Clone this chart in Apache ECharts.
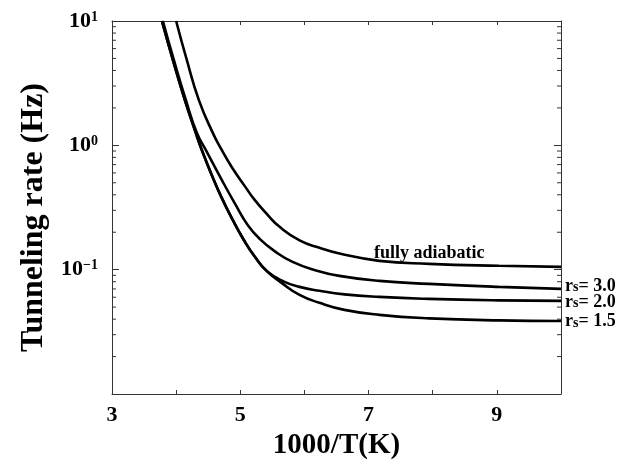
<!DOCTYPE html>
<html>
<head>
<meta charset="utf-8">
<script src="https://cdn.jsdelivr.net/npm/echarts@6/dist/echarts.min.js"></script>
<style>
    html, body { margin: 0; padding: 0; background: #fff; }
    #chart { width: 638px; height: 466px; }
</style>
</head>
<body>
<div id="chart"></div>
<script>
// curves: [1000/T, rate in Hz]
const fullyAdiabatic = [
    [4.00, 10], [4.166, 4.86], [4.353, 2.32], [4.571, 1.26], [4.711, 0.918],
    [4.866, 0.670], [5.068, 0.472], [5.224, 0.364], [5.426, 0.276], [5.613, 0.221],
    [5.924, 0.172], [6.235, 0.150], [6.546, 0.135], [7.168, 0.1177],
    [7.946, 0.1114], [9.034, 0.1074], [10.0, 0.1054]
];
const rs30 = [
    [3.793, 10], [3.964, 4.86], [4.151, 2.32], [4.322, 1.26], [4.462, 0.918],
    [4.711, 0.527], [4.928, 0.332], [5.115, 0.229], [5.302, 0.177], [5.551, 0.139],
    [5.815, 0.1155], [6.157, 0.0996], [6.546, 0.0891], [7.168, 0.0812],
    [7.946, 0.0769], [9.034, 0.0727], [10.0, 0.0701]
];
const rs20 = [
    [3.778, 10], [3.949, 4.86], [4.135, 2.32], [4.306, 1.26], [4.400, 0.918],
    [4.555, 0.578], [4.711, 0.378], [4.882, 0.251], [5.053, 0.174], [5.239, 0.1245],
    [5.426, 0.0960], [5.690, 0.0798], [5.924, 0.0727], [6.235, 0.0676],
    [6.624, 0.0633], [7.168, 0.0604], [7.946, 0.0582], [9.034, 0.0566], [10.0, 0.0561]
];
const rs15 = [
    [3.778, 10], [3.949, 4.86], [4.135, 2.32], [4.306, 1.26], [4.400, 0.918],
    [4.555, 0.578], [4.711, 0.378], [4.882, 0.251], [5.053, 0.174], [5.239, 0.1245],
    [5.426, 0.0960], [5.644, 0.0783], [5.924, 0.0627], [6.235, 0.0541],
    [6.624, 0.0475], [7.168, 0.0433], [7.946, 0.0406], [9.034, 0.0391], [10.0, 0.0387]
];
const seriesNames = ['fully adiabatic', 'r{s|s}= 3.0', 'r{s|s}= 2.0', 'r{s|s}= 1.5'];
const labelAt = 7.946;

const xRange = [3, 10];
const yRange = [0.01, 10];

// log minor ticks 2..9 in each decade
const minorTicks = [];
[0.01, 0.1, 1].forEach(d => {
    for (let k = 2; k <= 9; k++) {
        minorTicks.push([xRange[0], +(d * k).toPrecision(3)]);
    }
});

const FONT = 'Liberation Serif';
const AXIS_COLOR = '#333';

const lineStyle = { color: '#000', width: 2.6 };

const endLabel = (name, dy) => ({
    show: true,
    formatter: name,
    distance: 4,
    offset: [0, dy],
    color: '#000',
    fontFamily: FONT,
    fontWeight: 'bold',
    fontSize: 18,
    rich: {
        s: {
            fontFamily: FONT,
            fontWeight: 'bold',
            fontSize: 14,
            verticalAlign: 'bottom',
            color: '#000'
        }
    }
});

const chart = echarts.init(document.getElementById('chart'));

chart.setOption({
    animation: false,
    grid: { left: 112, right: 77, top: 21, bottom: 72 },
    xAxis: [
        {
            type: 'value',
            min: xRange[0],
            max: xRange[1],
            interval: 1,
            name: '1000/T(K)',
            nameLocation: 'middle',
            nameGap: 27,
            nameTextStyle: { fontFamily: FONT, fontWeight: 'bold', fontSize: 29, color: '#000' },
            axisLine: { lineStyle: { color: AXIS_COLOR, width: 1 } },
            axisTick: { inside: true, length: 4, lineStyle: { color: AXIS_COLOR } },
            axisLabel: {
                margin: 10,
                fontFamily: FONT,
                fontWeight: 'bold',
                fontSize: 22,
                color: '#000',
                formatter: v => (v % 2 === 1 ? String(v) : '')
            },
            splitLine: { show: false }
        },
        {
            type: 'value',
            position: 'top',
            min: xRange[0],
            max: xRange[1],
            interval: 1,
            axisLine: { lineStyle: { color: AXIS_COLOR, width: 1 } },
            axisTick: { inside: true, length: 4, lineStyle: { color: AXIS_COLOR } },
            axisLabel: { show: false },
            splitLine: { show: false }
        }
    ],
    yAxis: [
        {
            type: 'log',
            logBase: 10,
            min: yRange[0],
            max: yRange[1],
            name: 'Tunneling rate (Hz)',
            nameLocation: 'middle',
            nameGap: 60,
            nameTextStyle: {
                fontFamily: FONT,
                fontWeight: 'bold',
                fontSize: 32,
                color: '#000',
                padding: [0, 20, 0, 0]
            },
            axisLine: { lineStyle: { color: AXIS_COLOR, width: 1 } },
            axisTick: { inside: true, length: 7, lineStyle: { color: AXIS_COLOR } },
            axisLabel: {
                margin: 14,
                fontFamily: FONT,
                fontWeight: 'bold',
                fontSize: 22,
                color: '#000',
                formatter: v => {
                    const e = Math.round(Math.log10(v));
                    if (e === -2) {
                        return '';
                    }
                    return '10{sup|' + (e < 0 ? '\u2212' + (-e) : e) + '}';
                },
                rich: {
                    sup: {
                        fontFamily: FONT,
                        fontWeight: 'bold',
                        fontSize: 14,
                        verticalAlign: 'top',
                        color: '#000'
                    }
                }
            },
            splitLine: { show: false }
        },
        {
            type: 'log',
            logBase: 10,
            position: 'right',
            min: yRange[0],
            max: yRange[1],
            axisLine: { lineStyle: { color: AXIS_COLOR, width: 1 } },
            axisTick: { inside: true, length: 7, lineStyle: { color: AXIS_COLOR } },
            axisLabel: { show: false },
            splitLine: { show: false }
        }
    ],
    series: [
        {
            type: 'line',
            name: 'fully adiabatic',
            data: fullyAdiabatic.map(p => (p[0] === labelAt ? {
                value: p,
                label: {
                    show: true,
                    position: 'top',
                    distance: 1,
                    formatter: seriesNames[0],
                    color: '#000',
                    fontFamily: FONT,
                    fontWeight: 'bold',
                    fontSize: 18
                }
            } : p)),
            smooth: 0.5,
            symbolSize: 0,
            showSymbol: true,
            lineStyle: lineStyle
        },
        {
            type: 'line',
            name: 'rs 3.0',
            data: rs30,
            smooth: 0.5,
            showSymbol: false,
            lineStyle: lineStyle,
            endLabel: endLabel(seriesNames[1], -3)
        },
        {
            type: 'line',
            name: 'rs 2.0',
            data: rs20,
            smooth: 0.5,
            showSymbol: false,
            lineStyle: lineStyle,
            endLabel: endLabel(seriesNames[2], 1)
        },
        {
            type: 'line',
            name: 'rs 1.5',
            data: rs15,
            smooth: 0.5,
            showSymbol: false,
            lineStyle: lineStyle,
            endLabel: endLabel(seriesNames[3], 0)
        },
        {
            // minor log ticks on both vertical axes
            type: 'custom',
            silent: true,
            clip: false,
            data: minorTicks,
            renderItem: (params, api) => {
                const v = api.value(1);
                const l = api.coord([xRange[0], v]);
                const r = api.coord([xRange[1], v]);
                const style = { stroke: AXIS_COLOR, lineWidth: 1 };
                return {
                    type: 'group',
                    children: [
                        { type: 'line', shape: { x1: l[0], y1: l[1], x2: l[0] + 4, y2: l[1] }, style },
                        { type: 'line', shape: { x1: r[0], y1: r[1], x2: r[0] - 4, y2: r[1] }, style }
                    ]
                };
            }
        }
    ]
});
</script>
</body>
</html>
